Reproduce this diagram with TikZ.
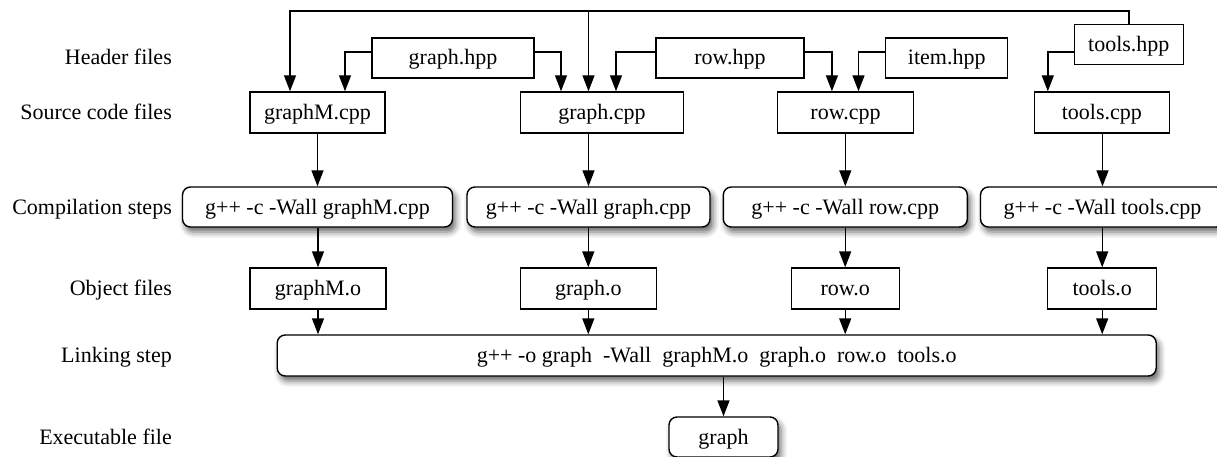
\documentclass[tikz,border=0pt]{standalone}
\usepackage{fontspec}
\setmainfont{Liberation Serif}
\usetikzlibrary{arrows.meta,shadows.blur,calc}
\begin{document}
\begin{tikzpicture}[x=1pt,y=-1pt,
  font=\fontsize{22}{26}\selectfont,
  every node/.style={inner sep=0pt, text height=14pt, text depth=0pt},
  filebox/.style={draw, line width=1.4pt, minimum height=40pt, fill=white},
  stepbox/.style={draw, line width=1.4pt, rounded corners=8pt, minimum height=40pt, fill=white,
    blur shadow={shadow xshift=3pt, shadow yshift=-5pt, shadow blur radius=6pt, shadow opacity=60}},
  arr/.style={line width=1.4pt, -{Triangle[length=16pt,width=12pt]}},
  rowlabel/.style={anchor=east}]
\useasboundingbox (0,0) rectangle (1217,457);
\clip (0,0) rectangle (1217,457);

% row labels
\node[rowlabel] (l1) at (172,58) {Header files};
\node[rowlabel] (l2) at (172,112.5) {Source code files};
\node[rowlabel] (l3) at (172,207) {Compilation steps};
\node[rowlabel] (l4) at (172,288.5) {Object files};
\node[rowlabel] (l5) at (172,355.5) {Linking step};
\node[rowlabel] (l6) at (172,437) {Executable file};

% header files
\node[filebox, minimum width=162pt] (ghpp) at (453,58) {graph.hpp};
\node[filebox, minimum width=148pt] (rhpp) at (730,58) {row.hpp};
\node[filebox, minimum width=122pt] (ihpp) at (946.7,58) {item.hpp};
\node[filebox, minimum width=109pt] (thpp) at (1128.8,44.3) {tools.hpp};

% source files
\node[filebox, minimum width=135pt, minimum height=41pt] (gMc) at (317.5,112.5) {graphM.cpp};
\node[filebox, minimum width=162.6pt, minimum height=41pt] (gc) at (602,112.5) {graph.cpp};
\node[filebox, minimum width=135.6pt, minimum height=41pt] (rc) at (845.5,112.5) {row.cpp};
\node[filebox, minimum width=135pt, minimum height=41pt] (tc) at (1101.8,112.5) {tools.cpp};

% compilation steps
\node[stepbox, minimum width=270pt] (c1) at (317.5,207) {g++ -c -Wall graphM.cpp};
\node[stepbox, minimum width=243pt] (c2) at (588.5,207) {g++ -c -Wall graph.cpp};
\node[stepbox, minimum width=244pt] (c3) at (845.3,207) {g++ -c -Wall row.cpp};
\node[stepbox, minimum width=244pt] (c4) at (1102.5,207) {g++ -c -Wall tools.cpp};

% object files
\node[filebox, minimum width=136pt, minimum height=41pt] (o1) at (318,288.5) {graphM.o};
\node[filebox, minimum width=136pt, minimum height=41pt] (o2) at (588.3,288.5) {graph.o};
\node[filebox, minimum width=108pt, minimum height=41pt] (o3) at (845.2,288.5) {row.o};
\node[filebox, minimum width=109pt, minimum height=41pt] (o4) at (1102.2,288.5) {tools.o};

% linking step
\node[stepbox, minimum width=879pt, minimum height=41pt] (lnk) at (716.7,355.5)
  {g++ -o graph\ \ -Wall\ \ graphM.o\ \ graph.o\ \ row.o\ \ tools.o};

% executable
\node[stepbox, minimum width=109pt] (exe) at (723.5,437) {graph};

% header connectors
\coordinate (topline) at (0,11);
\draw[arr] (thpp.north) -- (thpp.north |- topline) -| ($(gMc.north)+(-27.5,0)$);
\draw[arr] (topline -| c2.north) -- (gc.north -| c2.north);
\draw[arr] ([yshift=6pt]ghpp.west) -| ($(gMc.north)+(27.5,0)$);
\draw[arr] ([yshift=6pt]ghpp.east) -| ($(gc.north -| c2.north)+(-27.5,0)$);
\draw[arr] ([yshift=6pt]rhpp.west) -| ($(gc.north -| c2.north)+(27.5,0)$);
\draw[arr] ([yshift=6pt]rhpp.east) -| ($(rc.north)+(-13.6,0)$);
\draw[arr] ([yshift=6pt]ihpp.west) -| ($(rc.north)+(13,0)$);
\draw[arr] ([yshift=-7.6pt]thpp.west) -| ($(tc.north)+(-54,0)$);

% source -> compile
\draw[arr] (gMc.south -| c1.north) -- (c1.north);
\draw[arr] (gc.south -| c2.north) -- (c2.north);
\draw[arr] (rc.south -| c3.north) -- (c3.north);
\draw[arr] (tc.south -| c4.north) -- (c4.north);

% compile -> object
\draw[arr] (c1.south -| o1.north) -- (o1.north);
\draw[arr] (c2.south -| o2.north) -- (o2.north);
\draw[arr] (c3.south -| o3.north) -- (o3.north);
\draw[arr] (c4.south -| o4.north) -- (o4.north);

% object -> link
\draw[arr] (o1.south) -- (o1.south |- lnk.north);
\draw[arr] (o2.south) -- (o2.south |- lnk.north);
\draw[arr] (o3.south) -- (o3.south |- lnk.north);
\draw[arr] (o4.south) -- (o4.south |- lnk.north);

% link -> executable
\draw[arr] (lnk.south -| exe.north) -- (exe.north);
\end{tikzpicture}
\end{document}
